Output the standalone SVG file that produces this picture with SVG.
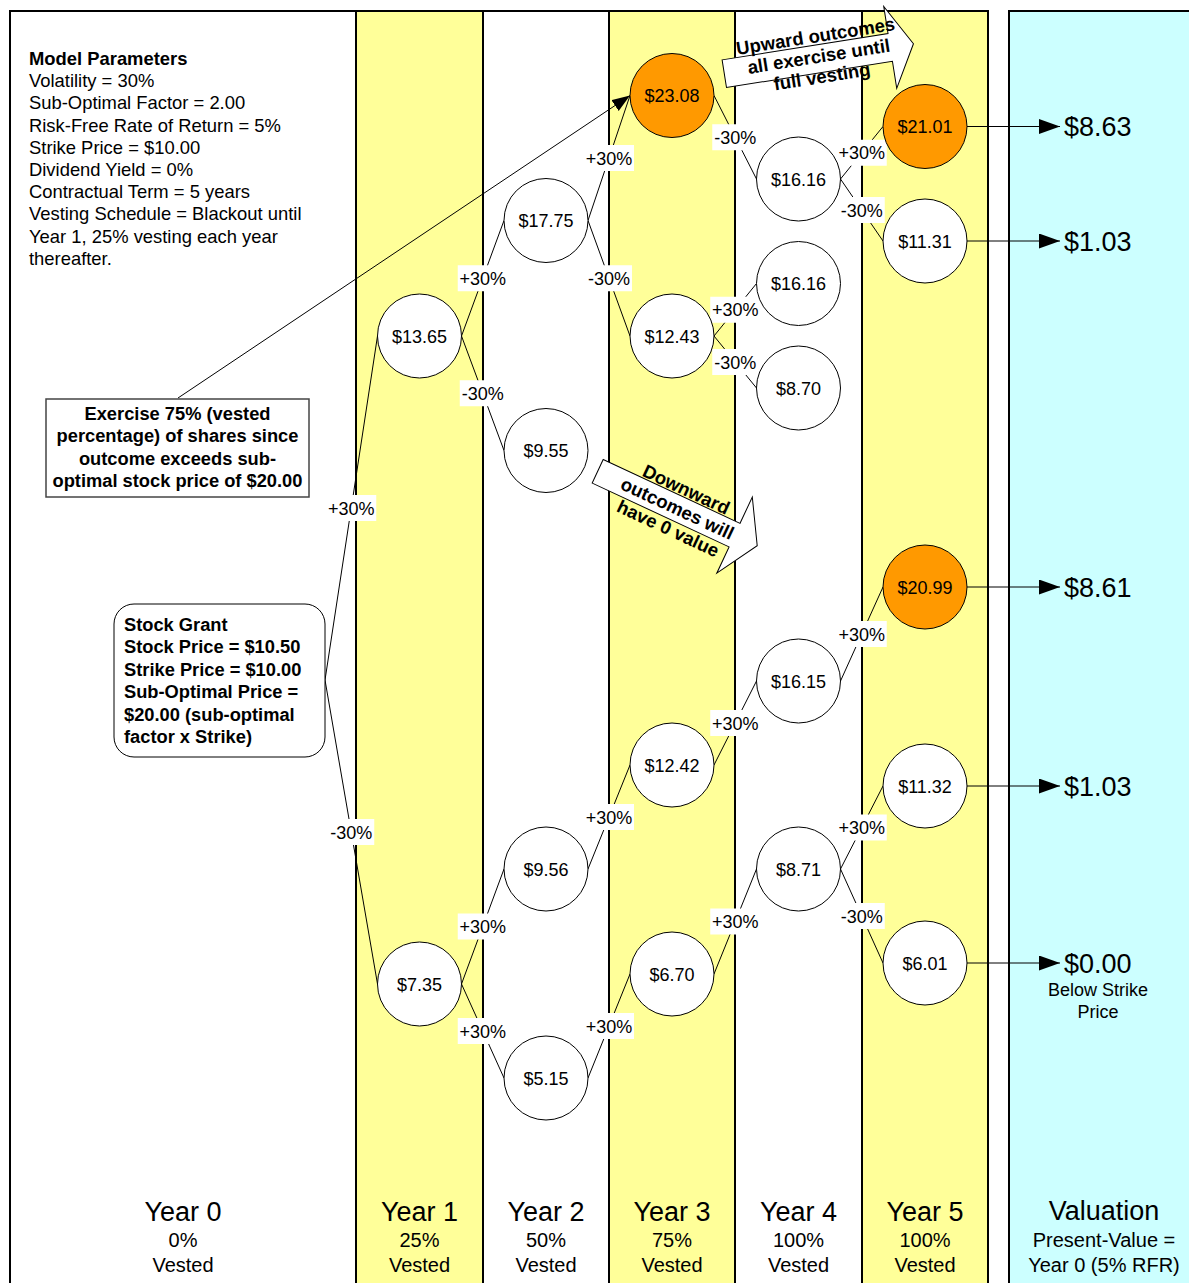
<svg xmlns="http://www.w3.org/2000/svg" width="1189" height="1283" viewBox="0 0 1189 1283">
<style>
text{font-family:"Liberation Sans",Arial,sans-serif;fill:#000}
.frame{stroke:#000;stroke-width:2;fill:none}
.edge{stroke:#000;stroke-width:1;fill:none}
.node circle{fill:#fff;stroke:#000;stroke-width:1}
.node.hot circle{fill:#FF9900}
.nt{font-size:18px;text-anchor:middle}
.lbl rect{fill:#fff}
.lbl text{font-size:18px;text-anchor:middle}
.b{font-weight:bold}
.p{font-size:18.4px}
.g{font-size:18.3px;font-weight:bold}
.yr{font-size:27px;text-anchor:middle}
.sub{font-size:20px;text-anchor:middle}
.val{font-size:27px}
.bigarrow{fill:#fff;stroke:#000;stroke-width:1}
.at{font-size:18.5px;font-weight:bold;text-anchor:middle}
</style>
<defs>
<marker id="ah" markerUnits="userSpaceOnUse" markerWidth="22" markerHeight="16" refX="21" refY="7.5" orient="auto">
<path d="M0,0 L21,7.5 L0,15 z" fill="#000"/>
</marker>
<marker id="ah2" markerUnits="userSpaceOnUse" markerWidth="19" markerHeight="14" refX="18" refY="6.5" orient="auto">
<path d="M0,0 L18,6.5 L0,13 z" fill="#000"/>
</marker>
</defs>

<g id="background">
<rect x="0" y="0" width="1189" height="1283" fill="#fff"/>
<rect x="356" y="11" width="127" height="1280" fill="#FFFF99"/>
<rect x="609" y="11" width="126" height="1280" fill="#FFFF99"/>
<rect x="862" y="11" width="126" height="1280" fill="#FFFF99"/>
<rect x="1009" y="11" width="200" height="1290" fill="#CCFFFF"/>
<path class="frame" d="M10,1290 V11 H988 V1290 M356,11 V1290 M483,11 V1290 M609,11 V1290 M735,11 V1290 M862,11 V1290 M1009,1290 V11 H1200"/>
</g>

<g id="params">
<text x="29" y="65" class="p b">Model Parameters</text>
<text x="29" y="87.2" class="p">Volatility = 30%</text>
<text x="29" y="109.4" class="p">Sub-Optimal Factor = 2.00</text>
<text x="29" y="131.6" class="p">Risk-Free Rate of Return = 5%</text>
<text x="29" y="153.8" class="p">Strike Price = $10.00</text>
<text x="29" y="176" class="p">Dividend Yield = 0%</text>
<text x="29" y="198.2" class="p">Contractual Term = 5 years</text>
<text x="29" y="220.4" class="p">Vesting Schedule = Blackout until</text>
<text x="29" y="242.6" class="p">Year 1, 25% vesting each year</text>
<text x="29" y="264.8" class="p">thereafter.</text>
</g>

<g id="connectors">
<line class="edge" x1="325" y1="680" x2="377.5" y2="336"/>
<line class="edge" x1="325" y1="680" x2="377.5" y2="984"/>
<line class="edge" x1="461.5" y1="336" x2="504" y2="220.5"/>
<line class="edge" x1="461.5" y1="336" x2="504" y2="450.5"/>
<line class="edge" x1="588" y1="220.5" x2="630" y2="95.5"/>
<line class="edge" x1="588" y1="220.5" x2="630" y2="336"/>
<line class="edge" x1="714" y1="95.5" x2="756.5" y2="179"/>
<line class="edge" x1="714" y1="336" x2="756.5" y2="283.5"/>
<line class="edge" x1="714" y1="336" x2="756.5" y2="388"/>
<line class="edge" x1="840.5" y1="179" x2="883" y2="126.5"/>
<line class="edge" x1="840.5" y1="179" x2="883" y2="241"/>
<line class="edge" x1="461.5" y1="984" x2="504" y2="869"/>
<line class="edge" x1="461.5" y1="984" x2="504" y2="1078"/>
<line class="edge" x1="588" y1="869" x2="630" y2="765"/>
<line class="edge" x1="588" y1="1078" x2="630" y2="974"/>
<line class="edge" x1="714" y1="765" x2="756.5" y2="681"/>
<line class="edge" x1="714" y1="974" x2="756.5" y2="869"/>
<line class="edge" x1="840.5" y1="681" x2="883" y2="587"/>
<line class="edge" x1="840.5" y1="869" x2="883" y2="786"/>
<line class="edge" x1="840.5" y1="869" x2="883" y2="963"/>
<line class="edge" x1="967" y1="126.5" x2="1060" y2="126.5" stroke-width="1.5" marker-end="url(#ah)"/>
<line class="edge" x1="967" y1="241" x2="1060" y2="241" stroke-width="1.5" marker-end="url(#ah)"/>
<line class="edge" x1="967" y1="587" x2="1060" y2="587" stroke-width="1.5" marker-end="url(#ah)"/>
<line class="edge" x1="967" y1="786" x2="1060" y2="786" stroke-width="1.5" marker-end="url(#ah)"/>
<line class="edge" x1="967" y1="963" x2="1060" y2="963" stroke-width="1.5" marker-end="url(#ah)"/>
<line class="edge" x1="178" y1="398" x2="630" y2="95.5" marker-end="url(#ah2)"/>
</g>

<g id="edge-labels">
<g class="lbl"><rect x="326.25" y="495" width="50" height="26"/><text x="351.25" y="514.5">+30%</text></g>
<g class="lbl"><rect x="328.25" y="819" width="46" height="26"/><text x="351.25" y="838.5">-30%</text></g>
<g class="lbl"><rect x="457.75" y="265.25" width="50" height="26"/><text x="482.75" y="284.75">+30%</text></g>
<g class="lbl"><rect x="459.75" y="380.25" width="46" height="26"/><text x="482.75" y="399.75">-30%</text></g>
<g class="lbl"><rect x="584" y="145" width="50" height="26"/><text x="609" y="164.5">+30%</text></g>
<g class="lbl"><rect x="586" y="265.25" width="46" height="26"/><text x="609" y="284.75">-30%</text></g>
<g class="lbl"><rect x="712.25" y="124.25" width="46" height="26"/><text x="735.25" y="143.75">-30%</text></g>
<g class="lbl"><rect x="710.25" y="296.75" width="50" height="26"/><text x="735.25" y="316.25">+30%</text></g>
<g class="lbl"><rect x="712.25" y="349" width="46" height="26"/><text x="735.25" y="368.5">-30%</text></g>
<g class="lbl"><rect x="836.75" y="139.75" width="50" height="26"/><text x="861.75" y="159.25">+30%</text></g>
<g class="lbl"><rect x="838.75" y="197" width="46" height="26"/><text x="861.75" y="216.5">-30%</text></g>
<g class="lbl"><rect x="457.75" y="913.5" width="50" height="26"/><text x="482.75" y="933">+30%</text></g>
<g class="lbl"><rect x="457.75" y="1018" width="50" height="26"/><text x="482.75" y="1037.5">+30%</text></g>
<g class="lbl"><rect x="584" y="804" width="50" height="26"/><text x="609" y="823.5">+30%</text></g>
<g class="lbl"><rect x="584" y="1013" width="50" height="26"/><text x="609" y="1032.5">+30%</text></g>
<g class="lbl"><rect x="710.25" y="710" width="50" height="26"/><text x="735.25" y="729.5">+30%</text></g>
<g class="lbl"><rect x="710.25" y="908.5" width="50" height="26"/><text x="735.25" y="928">+30%</text></g>
<g class="lbl"><rect x="836.75" y="621" width="50" height="26"/><text x="861.75" y="640.5">+30%</text></g>
<g class="lbl"><rect x="836.75" y="814.5" width="50" height="26"/><text x="861.75" y="834">+30%</text></g>
<g class="lbl"><rect x="838.75" y="903" width="46" height="26"/><text x="861.75" y="922.5">-30%</text></g>
</g>

<g id="n2308" class="node hot"><circle cx="672" cy="95.5" r="42"/><text class="nt" x="672" y="102">$23.08</text></g>
<g id="n2101" class="node hot"><circle cx="925" cy="126.5" r="42"/><text class="nt" x="925" y="133">$21.01</text></g>
<g id="n1616a" class="node"><circle cx="798.5" cy="179" r="42"/><text class="nt" x="798.5" y="185.5">$16.16</text></g>
<g id="n1131" class="node"><circle cx="925" cy="241" r="42"/><text class="nt" x="925" y="247.5">$11.31</text></g>
<g id="n1775" class="node"><circle cx="546" cy="220.5" r="42"/><text class="nt" x="546" y="227">$17.75</text></g>
<g id="n1616b" class="node"><circle cx="798.5" cy="283.5" r="42"/><text class="nt" x="798.5" y="290">$16.16</text></g>
<g id="n1365" class="node"><circle cx="419.5" cy="336" r="42"/><text class="nt" x="419.5" y="342.5">$13.65</text></g>
<g id="n1243" class="node"><circle cx="672" cy="336" r="42"/><text class="nt" x="672" y="342.5">$12.43</text></g>
<g id="n870" class="node"><circle cx="798.5" cy="388" r="42"/><text class="nt" x="798.5" y="394.5">$8.70</text></g>
<g id="n955" class="node"><circle cx="546" cy="450.5" r="42"/><text class="nt" x="546" y="457">$9.55</text></g>
<g id="n2099" class="node hot"><circle cx="925" cy="587" r="42"/><text class="nt" x="925" y="593.5">$20.99</text></g>
<g id="n1615" class="node"><circle cx="798.5" cy="681" r="42"/><text class="nt" x="798.5" y="687.5">$16.15</text></g>
<g id="n1242" class="node"><circle cx="672" cy="765" r="42"/><text class="nt" x="672" y="771.5">$12.42</text></g>
<g id="n1132" class="node"><circle cx="925" cy="786" r="42"/><text class="nt" x="925" y="792.5">$11.32</text></g>
<g id="n956" class="node"><circle cx="546" cy="869" r="42"/><text class="nt" x="546" y="875.5">$9.56</text></g>
<g id="n871" class="node"><circle cx="798.5" cy="869" r="42"/><text class="nt" x="798.5" y="875.5">$8.71</text></g>
<g id="n735" class="node"><circle cx="419.5" cy="984" r="42"/><text class="nt" x="419.5" y="990.5">$7.35</text></g>
<g id="n670" class="node"><circle cx="672" cy="974" r="42"/><text class="nt" x="672" y="980.5">$6.70</text></g>
<g id="n601" class="node"><circle cx="925" cy="963" r="42"/><text class="nt" x="925" y="969.5">$6.01</text></g>
<g id="n515" class="node"><circle cx="546" cy="1078" r="42"/><text class="nt" x="546" y="1084.5">$5.15</text></g>

<g id="grant">
<rect x="114" y="604" width="211" height="153" rx="20" ry="20" fill="#fff" stroke="#000" stroke-width="1"/>
<text x="124" y="631" class="g">Stock Grant</text>
<text x="124" y="653.4" class="g">Stock Price = $10.50</text>
<text x="124" y="675.8" class="g">Strike Price = $10.00</text>
<text x="124" y="698.2" class="g">Sub-Optimal Price =</text>
<text x="124" y="720.6" class="g">$20.00 (sub-optimal</text>
<text x="124" y="743" class="g">factor x Strike)</text>
</g>

<g id="exercise-note">
<rect x="46" y="399" width="263" height="98" fill="#fff" stroke="#444" stroke-width="1.5"/>
<text x="177.5" y="420" class="g" text-anchor="middle">Exercise 75% (vested</text>
<text x="177.5" y="442.3" class="g" text-anchor="middle">percentage) of shares since</text>
<text x="177.5" y="464.5" class="g" text-anchor="middle">outcome exceeds sub-</text>
<text x="177.5" y="486.7" class="g" text-anchor="middle">optimal stock price of $20.00</text>
</g>

<g id="upward-note" transform="translate(724.3,73.7) rotate(-9)">
<polygon class="bigarrow" points="0,-14 168,-14 168,-41.5 191.5,0 168,41.5 168,14 0,14"/>
<text class="at" x="96" y="-16.5">Upward outcomes</text>
<text class="at" x="96" y="4">all exercise until</text>
<text class="at" x="96" y="24.5">full vesting</text>
</g>

<g id="downward-note" transform="translate(597.7,471.3) rotate(25)">
<polygon class="bigarrow" points="0,-13 151,-13 151,-42 176,0 151,42 151,13 0,13"/>
<text class="at" x="88" y="-14.5">Downward</text>
<text class="at" x="88" y="6.5">outcomes will</text>
<text class="at" x="88" y="28.5">have 0 value</text>
</g>

<g id="valuations">
<text class="val" x="1064" y="136">$8.63</text>
<text class="val" x="1064" y="250.5">$1.03</text>
<text class="val" x="1064" y="596.5">$8.61</text>
<text class="val" x="1064" y="795.5">$1.03</text>
<text class="val" x="1064" y="972.5">$0.00</text>
<text x="1098" y="996" font-size="18" text-anchor="middle">Below Strike</text>
<text x="1098" y="1017.5" font-size="18" text-anchor="middle">Price</text>
</g>

<g id="column-labels">
<text class="yr" x="183" y="1220.5">Year 0</text>
<text class="sub" x="183" y="1247.3">0%</text>
<text class="sub" x="183" y="1271.7">Vested</text>
<text class="yr" x="419.5" y="1220.5">Year 1</text>
<text class="sub" x="419.5" y="1247.3">25%</text>
<text class="sub" x="419.5" y="1271.7">Vested</text>
<text class="yr" x="546" y="1220.5">Year 2</text>
<text class="sub" x="546" y="1247.3">50%</text>
<text class="sub" x="546" y="1271.7">Vested</text>
<text class="yr" x="672" y="1220.5">Year 3</text>
<text class="sub" x="672" y="1247.3">75%</text>
<text class="sub" x="672" y="1271.7">Vested</text>
<text class="yr" x="798.5" y="1220.5">Year 4</text>
<text class="sub" x="798.5" y="1247.3">100%</text>
<text class="sub" x="798.5" y="1271.7">Vested</text>
<text class="yr" x="925" y="1220.5">Year 5</text>
<text class="sub" x="925" y="1247.3">100%</text>
<text class="sub" x="925" y="1271.7">Vested</text>
<text class="yr" x="1104" y="1219.5">Valuation</text>
<text class="sub" x="1104" y="1246.7">Present-Value =</text>
<text class="sub" x="1104" y="1271.7">Year 0 (5% RFR)</text>
</g>
</svg>
